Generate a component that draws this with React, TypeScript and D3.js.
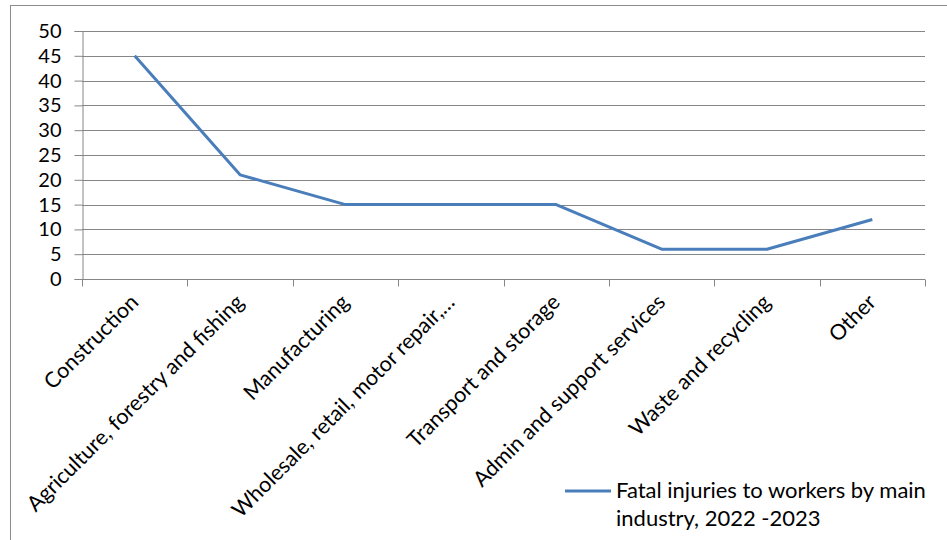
import React, { useRef, useEffect } from "react";
import * as d3 from "d3";

// industries on the x axis
const industries = [
  "Construction",
  "Agriculture, forestry and fishing",
  "Manufacturing",
  "Wholesale, retail, motor repair,…",
  "Transport and storage",
  "Admin and support services",
  "Waste and recycling",
  "Other",
];
// fatal injuries, 2022-2023
const fatalities = [45, 21, 15, 15, 15, 6, 6, 12];
const yTicks = [0, 5, 10, 15, 20, 25, 30, 35, 40, 45, 50];
const legendLines = ["Fatal injuries to workers by main", "industry, 2022 -2023"];

const W = 947;
const H = 540;
const margin = { left: 82, right: 22, top: 31, bottom: 261 };
const FONT = "Lato, 'Open Sans', sans-serif";
const BLUE = "#4a7ebb";

export default function App() {
  const ref = useRef<SVGSVGElement>(null);

  useEffect(() => {
    const svg = d3.select(ref.current);
    svg.selectAll("*").remove();

    const drawW = W - margin.left - margin.right;
    const drawH = H - margin.top - margin.bottom;

    const x = d3.scaleBand().domain(industries).range([0, drawW]).padding(0);
    const y = d3.scaleLinear().domain([0, 50]).range([drawH, 0]);

    // outer frame
    svg.append("rect")
      .attr("x", 10.5).attr("y", 5.5)
      .attr("width", W).attr("height", H)
      .attr("fill", "none").attr("stroke", "#8c8c8c").attr("stroke-width", 1);

    const g = svg.append("g").attr("transform", `translate(${margin.left},${margin.top})`);

    // gridlines
    g.append("g").selectAll("line").data(yTicks.filter((t) => t > 0)).enter().append("line")
      .attr("x1", 0).attr("x2", drawW)
      .attr("y1", (d) => Math.round(y(d)) + 0.5).attr("y2", (d) => Math.round(y(d)) + 0.5)
      .attr("stroke", "#868686").attr("stroke-width", 1);

    // y axis
    const yAxis = g.append("g")
      .attr("transform", "translate(0.5,0)")
      .call(d3.axisLeft(y).tickValues(yTicks).tickSize(8).tickPadding(13));
    yAxis.select(".domain").attr("stroke", "#868686");
    yAxis.selectAll(".tick line").attr("stroke", "#868686");
    yAxis.selectAll(".tick text")
      .attr("font-family", FONT).attr("font-size", 20).attr("fill", "#000");

    // x axis (ticks at category boundaries)
    const xAxis = g.append("g").attr("transform", `translate(0,${Math.round(drawH) + 0.5})`);
    xAxis.append("line")
      .attr("x1", 0).attr("x2", drawW).attr("stroke", "#868686");
    const bounds = industries.map((d) => x(d) as number).concat([drawW]);
    xAxis.selectAll("line.tick").data(bounds).enter().append("line")
      .attr("class", "tick")
      .attr("x1", (d) => Math.round(d) + 0.5).attr("x2", (d) => Math.round(d) + 0.5)
      .attr("y1", 0).attr("y2", 7)
      .attr("stroke", "#868686");
    xAxis.selectAll("text").data(industries).enter().append("text")
      .attr("transform", (d) => `translate(${(x(d) as number) + x.bandwidth() / 2 + 5},${24}) rotate(-45)`)
      .attr("text-anchor", "end")
      .attr("font-family", FONT).attr("font-size", 21.5).attr("fill", "#000")
      .text((d) => d);

    // line
    const line = d3.line<number>()
      .x((_, i) => (x(industries[i]) as number) + x.bandwidth() / 2)
      .y((d) => y(d));
    g.append("path").datum(fatalities)
      .attr("d", line)
      .attr("fill", "none").attr("stroke", BLUE).attr("stroke-width", 3)
      .attr("stroke-linejoin", "round");

    // legend
    const lg = svg.append("g").attr("transform", "translate(565,491)");
    lg.append("line").attr("x1", 0).attr("x2", 46).attr("y1", 0).attr("y2", 0)
      .attr("stroke", BLUE).attr("stroke-width", 3);
    lg.selectAll("text").data(legendLines).enter().append("text")
      .attr("x", 51).attr("y", (_, i) => 7 + i * 28)
      .attr("font-family", FONT).attr("font-size", 22).attr("fill", "#000")
      .text((d) => d);
  }, []);

  return (
    <svg
      ref={ref}
      width={W}
      height={H}
      style={{ position: "absolute", left: 0, top: 0, background: "#fff" }}
    />
  );
}
